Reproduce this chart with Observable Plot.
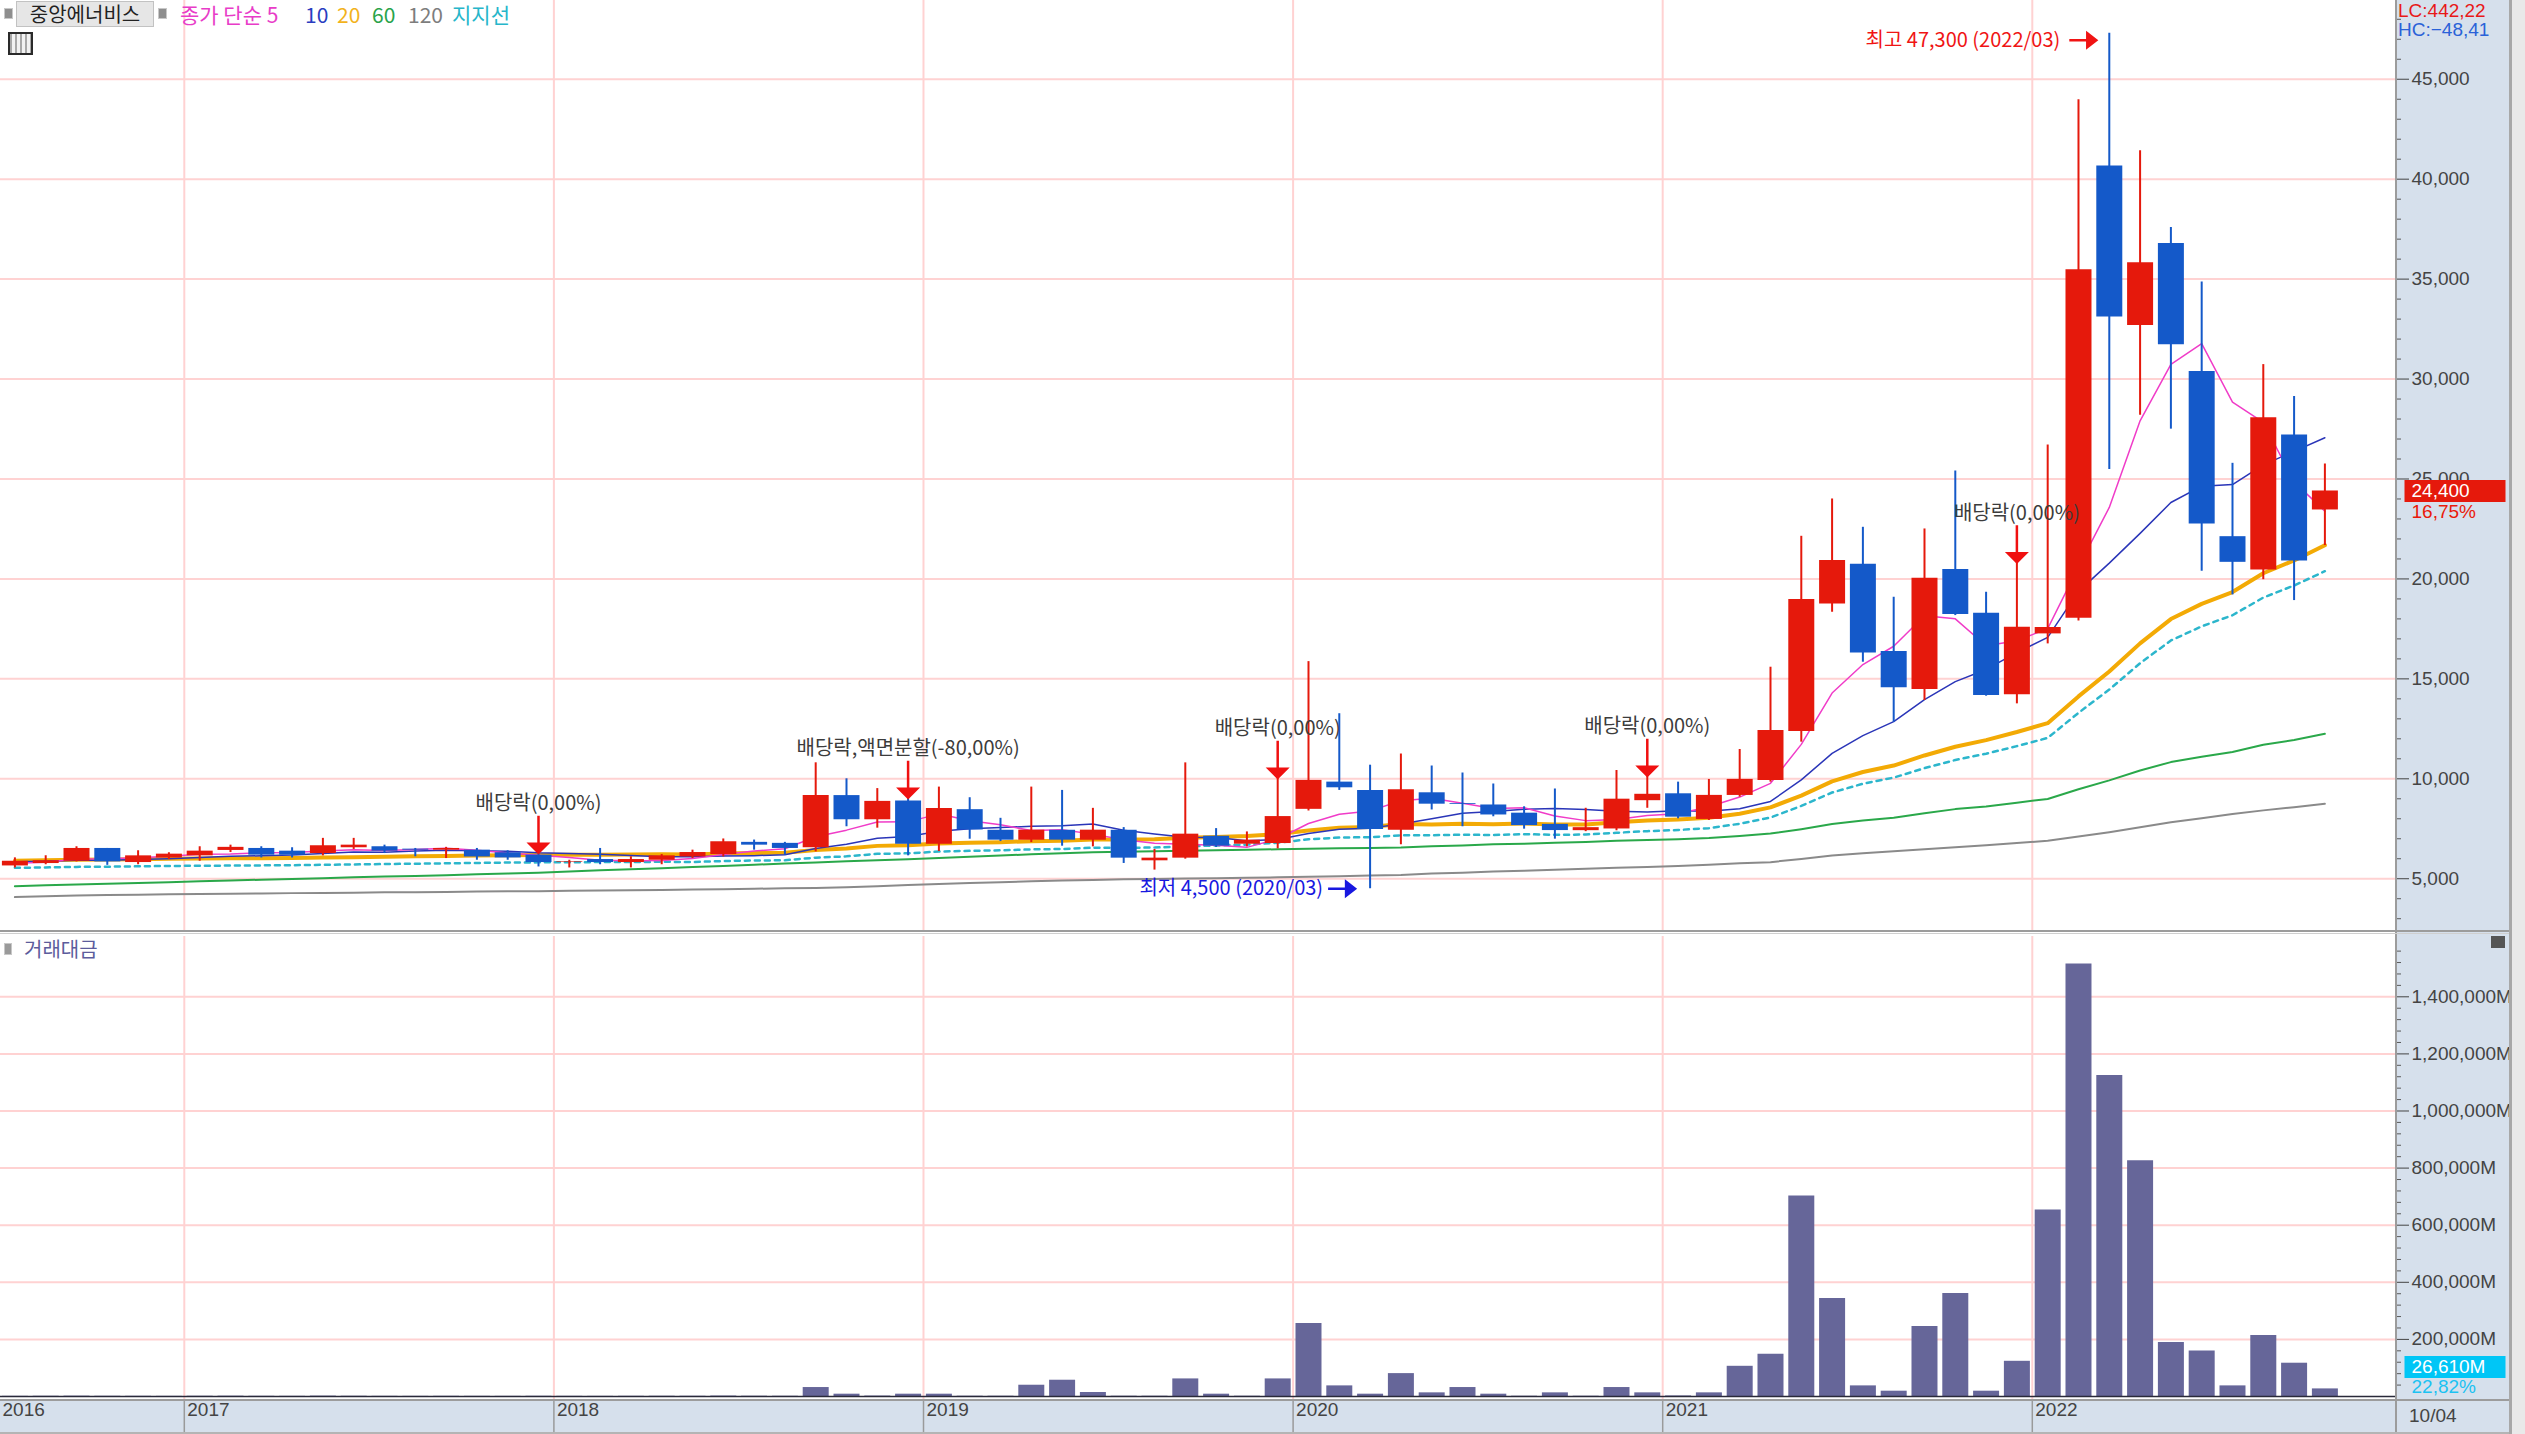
<!DOCTYPE html>
<html><head><meta charset="utf-8">
<script src="https://cdn.jsdelivr.net/npm/d3@7"></script>
<script src="https://cdn.jsdelivr.net/npm/@observablehq/plot@0.6"></script>
<style>
html,body{margin:0;padding:0;background:#fff;}
#wrap{position:relative;width:2525px;height:1434px;overflow:hidden;
  background:
    linear-gradient(#d6e0ec,#d6e0ec) right top / 129px 100% no-repeat,
    linear-gradient(#d6e0ec,#d6e0ec) left bottom / 100% 34px no-repeat,
    #fff;
  font-family:'Liberation Sans','Noto Sans CJK KR',sans-serif;}
.abs{position:absolute;white-space:nowrap;}
.k{font-family:'Noto Sans CJK KR','Liberation Sans',sans-serif;}
#wrap svg{position:absolute;left:0;}
</style></head><body>
<div id="wrap">
  <div id="pricePanel"></div>
  <div id="volPanel"></div>
</div>
<script>
// ---------------- data (monthly, 2016/07 .. 2022/10) ----------------
const months = ["2016/07","2016/08","2016/09","2016/10","2016/11","2016/12",
"2017/01","2017/02","2017/03","2017/04","2017/05","2017/06","2017/07","2017/08","2017/09","2017/10","2017/11","2017/12",
"2018/01","2018/02","2018/03","2018/04","2018/05","2018/06","2018/07","2018/08","2018/09","2018/10","2018/11","2018/12",
"2019/01","2019/02","2019/03","2019/04","2019/05","2019/06","2019/07","2019/08","2019/09","2019/10","2019/11","2019/12",
"2020/01","2020/02","2020/03","2020/04","2020/05","2020/06","2020/07","2020/08","2020/09","2020/10","2020/11","2020/12",
"2021/01","2021/02","2021/03","2021/04","2021/05","2021/06","2021/07","2021/08","2021/09","2021/10","2021/11","2021/12",
"2022/01","2022/02","2022/03","2022/04","2022/05","2022/06","2022/07","2022/08","2022/09","2022/10"];

const open = [5640,5760,5875,6515,5810,6040,
 6145,6415,6515,6380,6260,6550,6600,6480,6430,6430,6300,6180,
 5830,5960,5810,5925,6090,6210,6820,6770,6550,9160,7950,8887,
 6728,8455,7425,6927,7425,6927,7425,5897,6030,7126,6728,6761,
 8472,9834,9419,7420,9300,8760,8690,8280,7720,7405,7490,8905,
 9250,7967,9167,9917,12367,18750,20733,16367,14467,20467,18283,14200,
 17250,18033,40657,32683,36776,30376,22114,20442,27206,23450];
const high = [6044,6150,6600,6515,6400,6300,
 6600,6680,6600,6550,7020,7020,6680,6515,6570,6515,6400,6300,
 5925,6515,6100,6210,6430,6990,6935,6820,10800,10000,9510,9053,
 9585,9053,8023,9585,9419,8522,7558,6462,10797,7508,7342,10050,
 15863,13256,10681,11240,10640,10290,9740,8600,9490,8525,10415,10155,
 9833,9967,11467,15583,22133,24000,22583,19083,22500,25400,19333,20833,
 26700,43980,47300,41426,37583,34854,25784,30723,29128,25750];
const low = [5539,5700,5840,5670,5700,5960,
 5875,6310,6040,6040,6145,6465,6260,6100,6010,5925,5925,5590,
 5540,5700,5540,5700,6010,6090,6430,6180,6345,7600,7530,6146,
 6362,6977,6860,6810,6628,6595,5764,5432,5980,6562,6595,6495,
 8389,9419,4500,6700,8440,7600,8100,7480,6980,7355,7400,8525,
 8000,7917,9083,9833,11833,18333,15833,12833,13917,18167,14133,13750,
 16750,17900,25477,28186,27494,20384,19200,19961,18917,21670];
const close = [5875,5900,6515,5840,6145,6230,
 6380,6570,6180,6180,6650,6680,6380,6430,6515,6090,6040,5810,
 5860,5810,5960,6145,6310,6850,6680,6515,9160,7950,8870,6730,
 8520,7440,6930,7430,6930,7430,6030,6030,7230,6630,6930,8110,
 9920,9550,7460,9450,8730,8720,8190,7660,7410,7555,8980,9225,
 8080,9170,9970,12420,18970,20920,16300,14550,20030,18220,14170,17580,
 17570,35470,33100,35820,31720,22750,20830,28070,20900,24400];

// moving averages
const ma5 = [5780,5830,5990,6000,6055,6126,6222,6233,6301,6308,6392,6452,6414,6464,6531,6419,6291,6177,6063,5922,
 5896,5917,6017,6215,6389,6500,7103,7431,7835,7845,8246,7902,7698,7410,7450,7232,6950,6770,6730,6670,
 6570,6986,7764,8228,8394,8898,9022,8782,8510,8550,8142,7907,7959,8166,8250,8602,9085,9773,11722,14290,
 15716,16632,18154,18004,16654,16910,17514,20602,23578,27908,30736,31772,28844,27838,24854,23390];
const ma10 = [5850,5870,5920,5930,5960,6000,6060,6120,6150,6182,6259,6337,6324,6383,6420,6406,6372,6296,6264,6227,
 6158,6104,6097,6139,6156,6198,6510,6724,7025,7117,7373,7503,7565,7623,7648,7739,7426,7234,7070,7060,
 6901,6968,7267,7479,7532,7734,8004,8273,8369,8472,8520,8465,8371,8339,8401,8373,8497,8867,9945,11271,
 12160,12859,13964,14863,15472,16313,17073,19378,20791,22281,23823,24643,24723,25708,26381,27063];
const ma20 = [5900,5920,5950,5960,5980,6000,6010,6020,6030,6040,6060,6080,6100,6120,6140,6160,6180,6190,6200,6204,
 6208,6221,6210,6261,6288,6302,6441,6510,6644,6672,6765,6803,6831,6881,6902,6969,6968,6979,7048,7089,
 7137,7235,7416,7551,7590,7736,7716,7754,7720,7767,7712,7717,7820,7910,7967,8054,8251,8571,9158,9872,
 10341,10663,11168,11602,11937,12341,12784,14122,15368,16776,17991,18751,19344,20285,20926,21688];
const ma60 = [4630,4670,4710,4750,4790,4830,4870,4910,4950,4990,5030,5070,5110,5140,5180,5220,5260,5300,5360,5420,
 5470,5530,5590,5640,5700,5760,5810,5870,5930,5980,6040,6100,6160,6220,6270,6330,6350,6370,6400,6420,
 6450,6475,6500,6520,6540,6560,6620,6660,6720,6750,6800,6840,6900,6940,6980,7040,7140,7260,7480,7734,
 7908,8052,8277,8483,8617,8806,8993,9474,9923,10417,10835,11103,11344,11704,11944,12249];
const ma120 = [4080,4120,4160,4180,4200,4220,4240,4250,4260,4280,4290,4300,4320,4330,4340,4360,4370,4380,4400,4410,
 4430,4440,4460,4480,4500,4520,4540,4580,4630,4690,4740,4790,4830,4870,4910,4940,4970,4990,5010,5030,
 5050,5070,5100,5130,5160,5190,5260,5300,5360,5400,5450,5500,5550,5590,5640,5700,5770,5830,5990,6160,
 6280,6380,6480,6580,6680,6790,6900,7110,7330,7580,7830,8030,8240,8420,8580,8750];
const support = [5546,5565,5593,5602,5621,5640,5649,5659,5668,5678,5696,5715,5734,5753,5772,5790,5809,5819,5828,5832,
 5836,5848,5837,5885,5911,5924,6055,6119,6245,6272,6359,6395,6421,6468,6488,6551,6550,6560,6625,6664,
 6709,6801,6971,7060,7080,7170,7180,7200,7190,7230,7200,7210,7300,7380,7440,7530,7750,8060,8643,9314,
 9755,10058,10533,10941,11256,11635,12045,13299,14464,15783,16920,17628,18183,19068,19670,20387];

// trading value (거래대금), millions of won
const volume = [600,900,1200,800,700,500,900,1100,700,600,1300,900,600,500,700,600,500,800,600,500,
 700,900,800,1500,1000,900,31400,8100,1500,8100,8100,1000,1000,39500,57000,14000,1000,1000,61600,8100,
 1000,61600,255800,37200,8100,80200,12800,31400,8100,1000,12800,1000,31400,12800,2000,12800,105800,147700,702300,343000,
 37200,18600,245300,360500,18600,123300,653500,1515100,1124400,825600,189500,159300,37200,214000,116600,26610];

// corporate-action markers
const eventMonths = ["2017/12","2018/12","2019/12","2020/12","2021/12"];
const eventTexts = ["배당락(0,00%)","배당락,액면분할(-80,00%)","배당락(0,00%)","배당락(0,00%)","배당락(0,00%)"];

const priceTicks = [5000,10000,15000,20000,25000,30000,35000,40000,45000];
const volTicks = [200000,400000,600000,800000,1000000,1200000,1400000];
const dateLabel = "10/04";

// ---------------- helpers ----------------
const FONT = "'Liberation Sans','Noto Sans CJK KR',sans-serif";
const KFONT = "'Noto Sans CJK KR','Liberation Sans',sans-serif";
const GRID = "#ffd2d2";
const RED = "#e5190c", BLUE = "#1459c9";
const fmt = d3.format(",");
const pct = v => d3.format(".2f")(v).replace(".", ",");
const N = close.length;
const rows = d3.range(N).map(i => ({i, o: open[i], h: high[i], l: low[i], c: close[i], v: volume[i]}));
const ups = rows.filter(d => d.c >= d.o), downs = rows.filter(d => d.c < d.o);
const xDomain = [-0.4675, 77.325];
const xEnd = xDomain[1];
const yearIdx = months.map((m, i) => m.endsWith("/01") ? i - 0.5 : null).filter(v => v !== null);
const yearLabels = [{i: -0.5, label: months[0].slice(0, 4)}].concat(
  months.flatMap((m, i) => m.endsWith("/01") ? [{i: i - 0.5, label: m.slice(0, 4)}] : []));
const priceMinor = d3.range(3000, 48001, 1000).filter(v => v % 5000 !== 0);
const volMinor = d3.range(40000, 1600001, 40000).filter(v => v % 200000 !== 0);
const events = eventMonths.map((m, k) => { const i = months.indexOf(m); return {i, h: high[i], t: eventTexts[k]}; });
const hiI = d3.maxIndex(high), loI = d3.minIndex(low);
const hiRow = {i: hiI, v: high[hiI], t: `최고 ${fmt(high[hiI])} (${months[hiI]})`};
const loRow = {i: loI, v: low[loI], t: `최저 ${fmt(low[loI])} (${months[loI]})`};
const last = rows[N - 1], prev = rows[N - 2];

// custom glyphs (shape only; placed through scales)
const downArrow = {draw(ctx) { ctx.moveTo(0, -37); ctx.lineTo(0, -9); ctx.moveTo(-9, -9); ctx.lineTo(9, -9); ctx.lineTo(0, 0); ctx.closePath(); }};
const rightArrow = {draw(ctx) { ctx.moveTo(-27, 0); ctx.lineTo(-9, 0); ctx.moveTo(-9, -7); ctx.lineTo(0, 0); ctx.lineTo(-9, 7); ctx.closePath(); }};
const labelBox = {draw(ctx) { ctx.rect(8, -11, 101, 22); }};

const lineOf = (arr, stroke, w, extra = {}) =>
  Plot.line(d3.range(arr.length), {x: i => i, y: i => arr[i], stroke, strokeWidth: w, ...extra});

// ---------------- price panel ----------------
const price = Plot.plot({
  width: 2525, height: 931,
  marginLeft: 0, marginRight: 129, marginTop: 0, marginBottom: 0,
  style: {background: "transparent", color: "#444", fontFamily: FONT, fontSize: "19px"},
  x: {domain: xDomain, axis: null},
  y: {domain: [2360, 48940], axis: "right", ticks: priceTicks, tickFormat: fmt, tickSize: 12, tickPadding: 3, label: null},
  marks: [
    Plot.ruleY(priceTicks, {stroke: GRID, strokeWidth: 2}),
    Plot.ruleX(yearIdx, {stroke: GRID, strokeWidth: 2}),
    Plot.ruleY(priceMinor, {x1: () => xEnd, x2: () => xEnd, insetRight: -5, stroke: "#5a5a5a"}),
    lineOf(ma120, "#8a8a8a", 2),
    lineOf(ma60, "#2aa84a", 2),
    lineOf(support, "#2cb6cc", 2.5, {strokeDasharray: "5,5"}),
    lineOf(ma20, "#f3aa05", 4),
    lineOf(ma10, "#2a35b8", 1.5),
    lineOf(ma5, "#f03cc8", 1.5),
    Plot.ruleX(ups, {x: "i", y1: "l", y2: "h", stroke: RED, strokeWidth: 2}),
    Plot.ruleX(downs, {x: "i", y1: "l", y2: "h", stroke: BLUE, strokeWidth: 2}),
    Plot.ruleX(ups, {x: "i", y1: "o", y2: "c", stroke: RED, strokeWidth: 26}),
    Plot.ruleX(downs, {x: "i", y1: "o", y2: "c", stroke: BLUE, strokeWidth: 26}),
    Plot.dot(events, {x: "i", y: "h", symbol: downArrow, r: 5, fill: "#f01010", stroke: "#f01010", strokeWidth: 2.5}),
    Plot.text(events, {x: "i", y: "h", text: "t", dy: -49, fontSize: 20, fill: "#3c3c3c", fontFamily: KFONT}),
    Plot.text([hiRow], {x: "i", y: "v", text: "t", textAnchor: "end", dx: -49, dy: 7, fontSize: 20, fill: "#f01414", fontFamily: KFONT}),
    Plot.dot([hiRow], {x: "i", y: "v", symbol: rightArrow, r: 5, dx: -13, dy: 7, fill: "#f01414", stroke: "#f01414", strokeWidth: 2.5}),
    Plot.text([loRow], {x: "i", y: "v", text: "t", textAnchor: "end", dx: -47, fontSize: 20, fill: "#1818e0", fontFamily: KFONT}),
    Plot.dot([loRow], {x: "i", y: "v", symbol: rightArrow, r: 5, dx: -15, fill: "#1818e0", stroke: "#1818e0", strokeWidth: 2.5}),
    Plot.dot([last], {x: () => xEnd, y: "c", symbol: labelBox, r: 5, fill: RED, stroke: "none"}),
    Plot.text([last], {x: () => xEnd, y: "c", text: d => fmt(d.c), dx: 15, textAnchor: "start", fill: "#fff", fontSize: 19}),
    Plot.text([last], {x: () => xEnd, y: "c", text: d => pct((d.c / prev.c - 1) * 100) + "%", dx: 15, dy: 21, textAnchor: "start", fill: "#ea1a0a", fontSize: 19})
  ]
});
price.style.top = "0px";
document.getElementById("pricePanel").appendChild(price);

// ---------------- trading value panel ----------------
const vol = Plot.plot({
  width: 2525, height: 498,
  marginLeft: 0, marginRight: 129, marginTop: 0, marginBottom: 34,
  style: {background: "transparent", color: "#444", fontFamily: FONT, fontSize: "19px"},
  x: {domain: xDomain, axis: null},
  y: {domain: [-14011, 1611208], axis: "right", ticks: volTicks, tickFormat: d => fmt(d) + "M", tickSize: 12, tickPadding: 3, label: null},
  marks: [
    Plot.ruleY(volTicks, {stroke: GRID, strokeWidth: 2}),
    Plot.ruleX(yearIdx, {stroke: GRID, strokeWidth: 2}),
    Plot.ruleX(yearIdx, {insetTop: 464, insetBottom: -34, stroke: "#9a9a9a", strokeWidth: 1.5}),
    Plot.ruleY(volMinor, {x1: () => xEnd, x2: () => xEnd, insetRight: -5, stroke: "#5a5a5a"}),
    Plot.ruleX(rows, {x: "i", y1: 0, y2: "v", stroke: "#666699", strokeWidth: 26}),
    Plot.ruleY([0], {stroke: "#2a2a3a", strokeWidth: 1.5}),
    Plot.text(yearLabels, {x: "i", text: "label", frameAnchor: "bottom", dy: 15, dx: 3, textAnchor: "start", fill: "#444", fontSize: 19}),
    Plot.dot([last], {x: () => xEnd, y: "v", symbol: labelBox, r: 5, dy: -22, fill: "#00c6f6", stroke: "none"}),
    Plot.text([last], {x: () => xEnd, y: "v", text: d => fmt(d.v) + "M", dx: 15, dy: -22, textAnchor: "start", fill: "#fff", fontSize: 19}),
    Plot.text([last], {x: () => xEnd, y: "v", text: d => pct(d.v / prev.v * 100) + "%", dx: 15, dy: -2, textAnchor: "start", fill: "#1cc2f2", fontSize: 19})
  ]
});
vol.style.top = "936px";
document.getElementById("volPanel").appendChild(vol);

// ---------------- frame, legend and header texts ----------------
const wrap = document.getElementById("wrap");
function add(html) { wrap.insertAdjacentHTML("beforeend", html); }
add(`<div class="abs" style="left:2395px;top:0;width:2px;height:1434px;background:#9c9c9c"></div>`);
add(`<div class="abs" style="left:2509px;top:0;width:3px;height:1434px;background:#a8a8a8"></div>`);
add(`<div class="abs" style="left:2512px;top:0;width:13px;height:1434px;background:#e9e9e9"></div>`);
add(`<div class="abs" style="left:0;top:930px;width:2509px;height:2px;background:#9c9c9c"></div>`);
add(`<div class="abs" style="left:0;top:933px;width:2509px;height:1px;background:#cfcfcf"></div>`);
add(`<div class="abs" style="left:0;top:1399px;width:2509px;height:2px;background:#9c9c9c"></div>`);
add(`<div class="abs" style="left:0;top:1432px;width:2509px;height:2px;background:#b4b4b4"></div>`);
// legend
add(`<div class="abs" style="left:4px;top:8px;width:7px;height:9px;background:#8e8e8e;border:1px solid #c8c8c8"></div>`);
add(`<div class="abs k" style="left:16px;top:1px;width:136px;height:24px;background:#e6e6e6;border:1px solid #c2c2c2;font-size:20px;line-height:24px;text-align:center;color:#222">중앙에너비스</div>`);
add(`<div class="abs" style="left:158px;top:8px;width:7px;height:9px;background:#8e8e8e;border:1px solid #c8c8c8"></div>`);
const leg = [["종가 단순 5", "#e83cc8", 180], ["10", "#2a3cc0", 305], ["20", "#f2b21b", 337], ["60", "#29a34a", 372], ["120", "#7d7d7d", 408], ["지지선", "#26b6ca", 452]];
leg.forEach(([t, c, x]) => add(`<div class="abs k" style="left:${x}px;top:2px;font-size:21px;line-height:24px;color:${c}">${t}</div>`));
add(`<div class="abs" style="left:8px;top:32px;width:21px;height:19px;border:2px solid #2a2a2a;background:repeating-linear-gradient(90deg,#a8a8a8 0 2px,#f2f2f2 2px 5px)"></div>`);
// LC / HC
const LC = (last.c / low[loI] - 1) * 100, HC = (last.c / high[hiI] - 1) * 100;
add(`<div class="abs" style="left:2398px;top:1px;font-size:19px;line-height:19px;color:#e81818">LC:${pct(LC)}</div>`);
add(`<div class="abs" style="left:2398px;top:20px;font-size:19px;line-height:19px;color:#2a62d8">HC:${pct(HC)}</div>`);
// volume panel title
add(`<div class="abs" style="left:4px;top:943px;width:6px;height:10px;background:#9a9a9a;border:1px solid #c8c8c8"></div>`);
add(`<div class="abs k" style="left:24px;top:936px;font-size:20px;line-height:26px;color:#5c5c9c">거래대금</div>`);
add(`<div class="abs" style="left:2491px;top:936px;width:14px;height:12px;background:#555"></div>`);
add(`<div class="abs" style="left:2409px;top:1404px;font-size:19px;line-height:24px;color:#444">${dateLabel}</div>`);
</script>
</body></html>
